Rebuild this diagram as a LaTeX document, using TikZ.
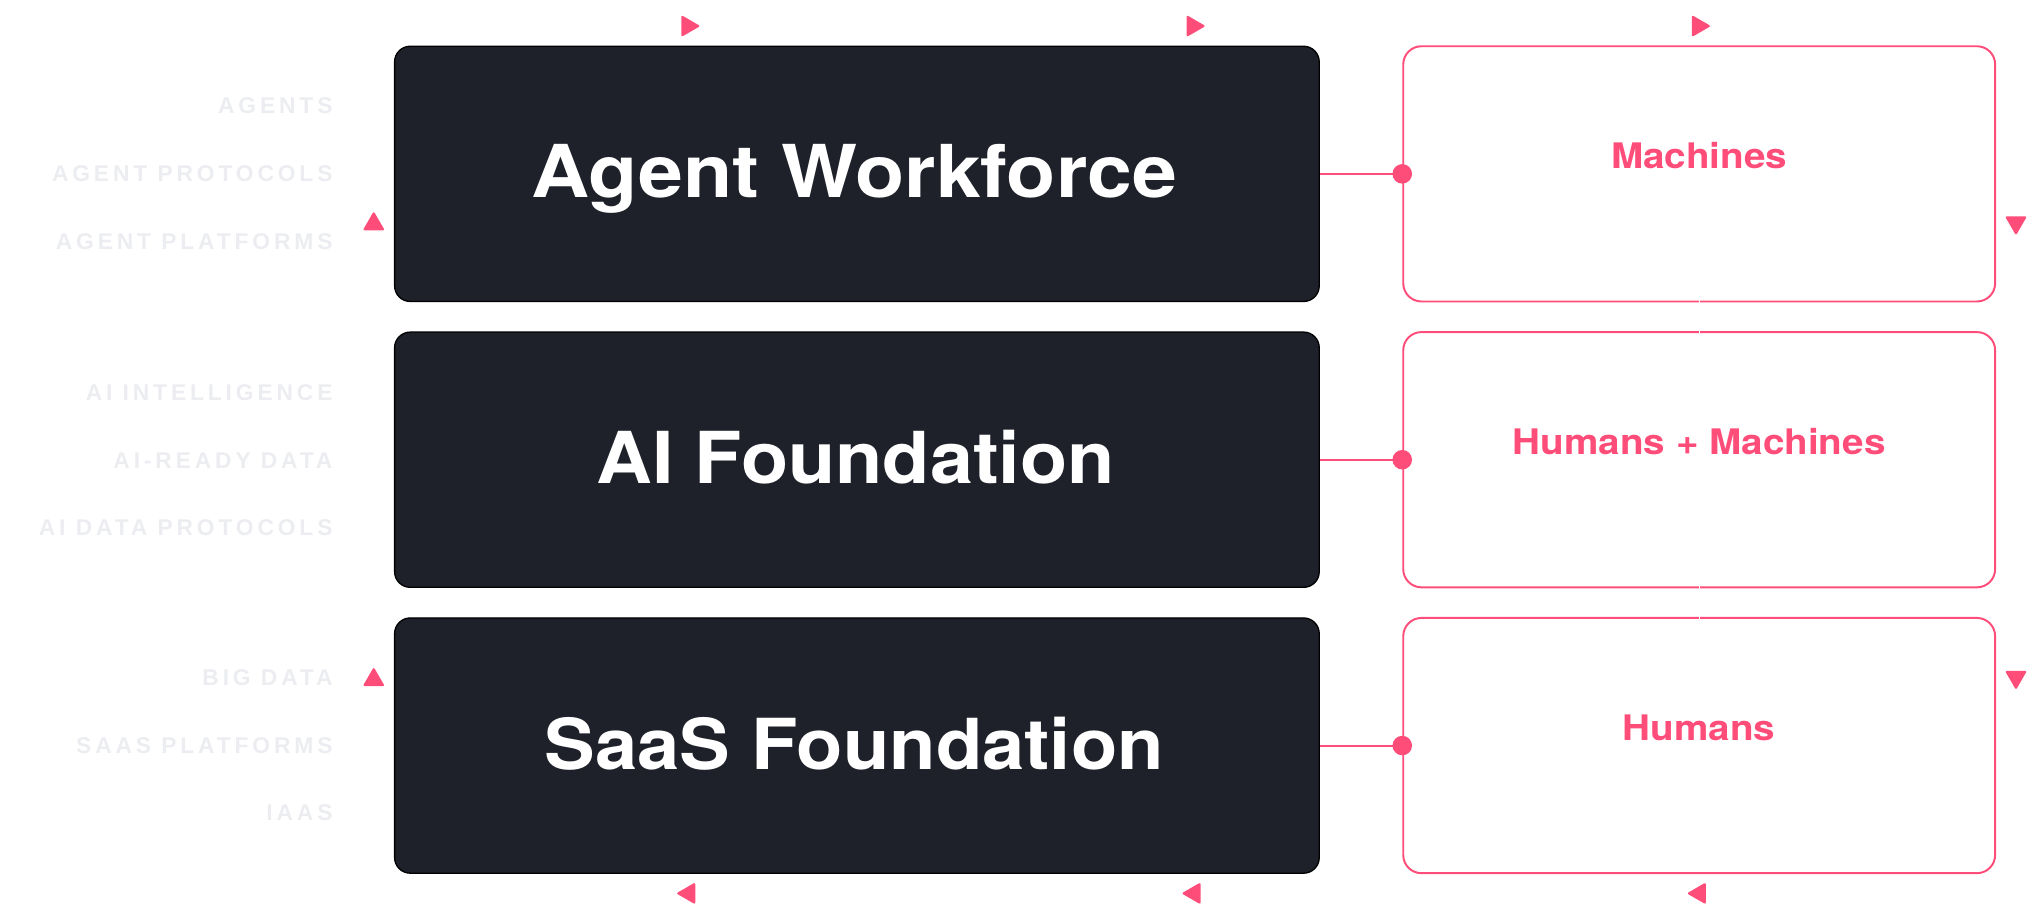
\documentclass[tikz,border=0pt]{standalone}
\usepackage{fontspec}
\usetikzlibrary{shapes.geometric}
\newfontfamily\titlefont{TeX Gyre Heros}[FakeStretch=1.08]
\newfontfamily\wideTitle{TeX Gyre Heros}[FakeStretch=1.105]
\newfontfamily\pinkfont{TeX Gyre Heros}[FakeStretch=1.1]
\newfontfamily\lblfont{Liberation Sans}[LetterSpace=17]
\definecolor{boxfill}{HTML}{1E2129}
\definecolor{accent}{HTML}{FF4D7A}
\definecolor{lbl}{HTML}{ECEDF0}
\begin{document}
\begin{tikzpicture}[x=1pt,y=-1pt,
  darkbox/.style={draw=black, line width=1pt, fill=boxfill, rounded corners=12pt,
    minimum width=710pt, minimum height=196pt, inner sep=0pt},
  pinkbox/.style={draw=accent, line width=1.5pt, rounded corners=14pt, fill=white,
    minimum width=454.5pt, minimum height=196pt, inner sep=0pt},
  title/.style={text=white, font=\titlefont\bfseries\fontsize{55}{60}\selectfont,
    anchor=base, inner sep=0pt},
  ptext/.style={text=accent, font=\pinkfont\bfseries\fontsize{27}{30}\selectfont,
    anchor=base, inner sep=0pt},
  layer/.style={text=lbl, font=\lblfont\bfseries\fontsize{17.5}{20}\selectfont,
    anchor=base east, inner sep=0pt},
  tri/.style={regular polygon, regular polygon sides=3, fill=accent, draw=none,
    minimum size=19.5pt, inner sep=0pt, rounded corners=1.5pt},
  triright/.style={tri, shape border rotate=-90},
  trileft/.style={tri, shape border rotate=90},
  triup/.style={tri},
  tridown/.style={tri, shape border rotate=180},
  link/.style={draw=accent, line width=1.5pt},
  dot/.style={circle, fill=accent, minimum size=15pt, inner sep=0pt},
  gap/.style={draw=white, line width=0.9pt},
]
\useasboundingbox (0,0) rectangle (1568,706);

% dark boxes
\node[darkbox] (d1) at (658,133.5) {};
\node[darkbox] (d2) at (658,353) {};
\node[darkbox] (d3) at (658,572.5) {};
\node[title, font=\wideTitle\bfseries\fontsize{56}{60}\selectfont] (t1) at (656,151.5) {Agent Workforce};
\node[title] (t2) at (657,371) {AI Foundation};
\node[title, font=\titlefont\bfseries\fontsize{54}{60}\selectfont] (t3) at (656,590.5) {SaaS Foundation};

% pink boxes
\node[pinkbox] (r1) at (1304.75,133.5) {};
\node[pinkbox] (r2) at (1304.75,353) {};
\node[pinkbox] (r3) at (1304.75,572.5) {};
\node[ptext] (p1) at (1304.75,129.5) {Machines};
\node[ptext] (p2) at (1304.75,349) {Humans + Machines};
\node[ptext] (p3) at (1304.75,568.5) {Humans};

% small gaps in the borders
\foreach \n/\a in {r1/south, r2/north, r2/south, r3/north}{
  \draw[gap] ([yshift=3pt]\n.\a) -- ([yshift=-3pt]\n.\a);
}

% connectors
\foreach \i in {1,2,3}{
  \draw[link] (d\i.east) -- (r\i.west);
  \node[dot] (c\i) at (r\i.west) {};
}

% layer labels
\node[layer] (l1) at (255.5,87.4) {AGENTS};
\node[layer] (l2) at (255.5,139.4) {AGENT PROTOCOLS};
\node[layer] (l3) at (255.5,191.4) {AGENT PLATFORMS};
\node[layer] (l4) at (255.5,307.4) {AI INTELLIGENCE};
\node[layer] (l5) at (255.5,359.4) {AI-READY DATA};
\node[layer] (l6) at (255.5,411.4) {AI DATA PROTOCOLS};
\node[layer] (l7) at (255.5,526.4) {BIG DATA};
\node[layer] (l8) at (255.5,578.4) {SAAS PLATFORMS};
\node[layer] (l9) at (255.5,630.4) {IAAS};

% flow markers
\node[triright] (m1) at (528,20) {};
\node[triright] (m2) at (916,20) {};
\node[triright] (m3) at (1304,20) {};
\node[tridown] (m4) at (1548,171) {};
\node[tridown] (m5) at (1548,520) {};
\node[trileft] (m6) at (1305,686) {};
\node[trileft] (m7) at (917,686) {};
\node[trileft] (m8) at (529,686) {};
\node[triup] (m9) at (287,522) {};
\node[triup] (m10) at (287,172) {};
\end{tikzpicture}
\end{document}
